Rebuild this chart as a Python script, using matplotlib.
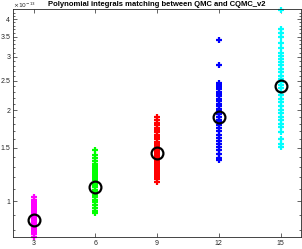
import matplotlib
matplotlib.use('Agg')
import matplotlib.pyplot as plt
import matplotlib.ticker as plticker
import numpy as np

plt.rcParams['font.family'] = ['Liberation Sans', 'DejaVu Sans']

# values in units of 1e-13
scale = 1e-13
groups = [3, 6, 9, 12, 15]
colors = ['#ff00ff', '#00ff00', '#ff0000', '#0000ff', '#00ffff']

vals_3 = [1.03, 1.01, 0.99, 0.977, 0.962, 0.948, 0.934, 0.919, 0.906, 0.892, 0.878,
          0.865, 0.852, 0.839, 0.826, 0.814, 0.802, 0.79, 0.777, 0.76]
vals_6 = [1.47, 1.42, 1.39, 1.36, 1.33, 1.31, 1.29, 1.27, 1.25, 1.23, 1.21, 1.19, 1.17,
          1.15, 1.13, 1.11, 1.09, 1.07, 1.05, 1.03, 1.01, 0.99, 0.97, 0.95, 0.93, 0.91]
vals_9 = [1.89, 1.85, 1.81, 1.78, 1.75, 1.72, 1.69, 1.66, 1.63, 1.60, 1.57, 1.55, 1.52,
          1.50, 1.48, 1.46, 1.44, 1.42, 1.40, 1.38, 1.36, 1.34, 1.32, 1.30, 1.28, 1.26,
          1.24, 1.22, 1.20, 1.18, 1.16]
vals_12 = [3.41, 2.82, 2.46, 2.42, 2.38, 2.34, 2.30, 2.26, 2.22, 2.18, 2.14, 2.10, 2.06,
           2.02, 1.98, 1.94, 1.90, 1.86, 1.82, 1.78, 1.74, 1.70, 1.66, 1.62, 1.58, 1.55,
           1.51, 1.47, 1.43, 1.39, 1.37]
vals_15 = [4.30, 3.71, 3.60, 3.49, 3.33, 3.21, 3.09, 3.02, 2.95, 2.88, 2.81, 2.74, 2.67,
           2.60, 2.54, 2.48, 2.42, 2.36, 2.30, 2.24, 2.18, 2.12, 2.06, 2.00, 1.95, 1.90,
           1.85, 1.80, 1.76, 1.69, 1.60, 1.55, 1.51]
circle_vals = [0.865, 1.11, 1.44, 1.90, 2.40]

all_vals = [vals_3, vals_6, vals_9, vals_12, vals_15]
yticks = [1, 1.5, 2, 2.5, 3, 3.5, 4]
minor = [0.8, 0.9, 1.1, 1.2, 1.3, 1.4, 1.6, 1.7, 1.8, 1.9, 2.1, 2.2, 2.3, 2.4, 2.6, 2.7,
         2.8, 2.9, 3.1, 3.2, 3.3, 3.4, 3.6, 3.7, 3.8, 3.9, 4.1, 4.2]

fig = plt.figure(figsize=(3.02, 2.49), dpi=100)
ax = fig.add_axes([0.043, 0.048, 0.954, 0.916])

for g, v, c in zip(groups, all_vals, colors):
    ax.plot([g] * len(v), np.array(v) * scale, '+', color=c, markersize=4.5, mew=1.6,
            clip_on=False, zorder=2)
ax.plot(groups, np.array(circle_vals) * scale, 'o', mfc='none', mec='k', markersize=8.5,
        mew=1.6, zorder=3)

ax.set_yscale('log')
ax.set_xlim(2, 16)
ax.set_ylim(0.76 * scale, 4.32 * scale)
ax.set_xticks(groups)
ax.set_xticklabels([str(g) for g in groups])
ax.yaxis.set_major_locator(plticker.FixedLocator([t * scale for t in yticks]))
ax.yaxis.set_minor_locator(plticker.FixedLocator([t * scale for t in minor]))
ax.yaxis.set_major_formatter(plticker.FixedFormatter([f'{t:g}' for t in yticks]))
ax.yaxis.set_minor_formatter(plticker.NullFormatter())

gray = '#262626'
for sp in ax.spines.values():
    sp.set_color(gray)
    sp.set_linewidth(0.6)
ax.tick_params(which='both', direction='in', top=True, right=True, colors=gray,
               labelsize=5, pad=2)
ax.tick_params(which='major', length=3, width=0.5)
ax.tick_params(which='minor', length=1.5, width=0.5)

ax.set_title('Polynomial integrals matching between QMC and CQMC_v2', fontsize=5.5,
             fontweight='bold', pad=2)
ax.text(0.0, 0.995, r'$\times10^{-13}$', transform=ax.transAxes, fontsize=4.3, color=gray,
        ha='left', va='bottom')

fig.savefig('out.png', dpi=100)
